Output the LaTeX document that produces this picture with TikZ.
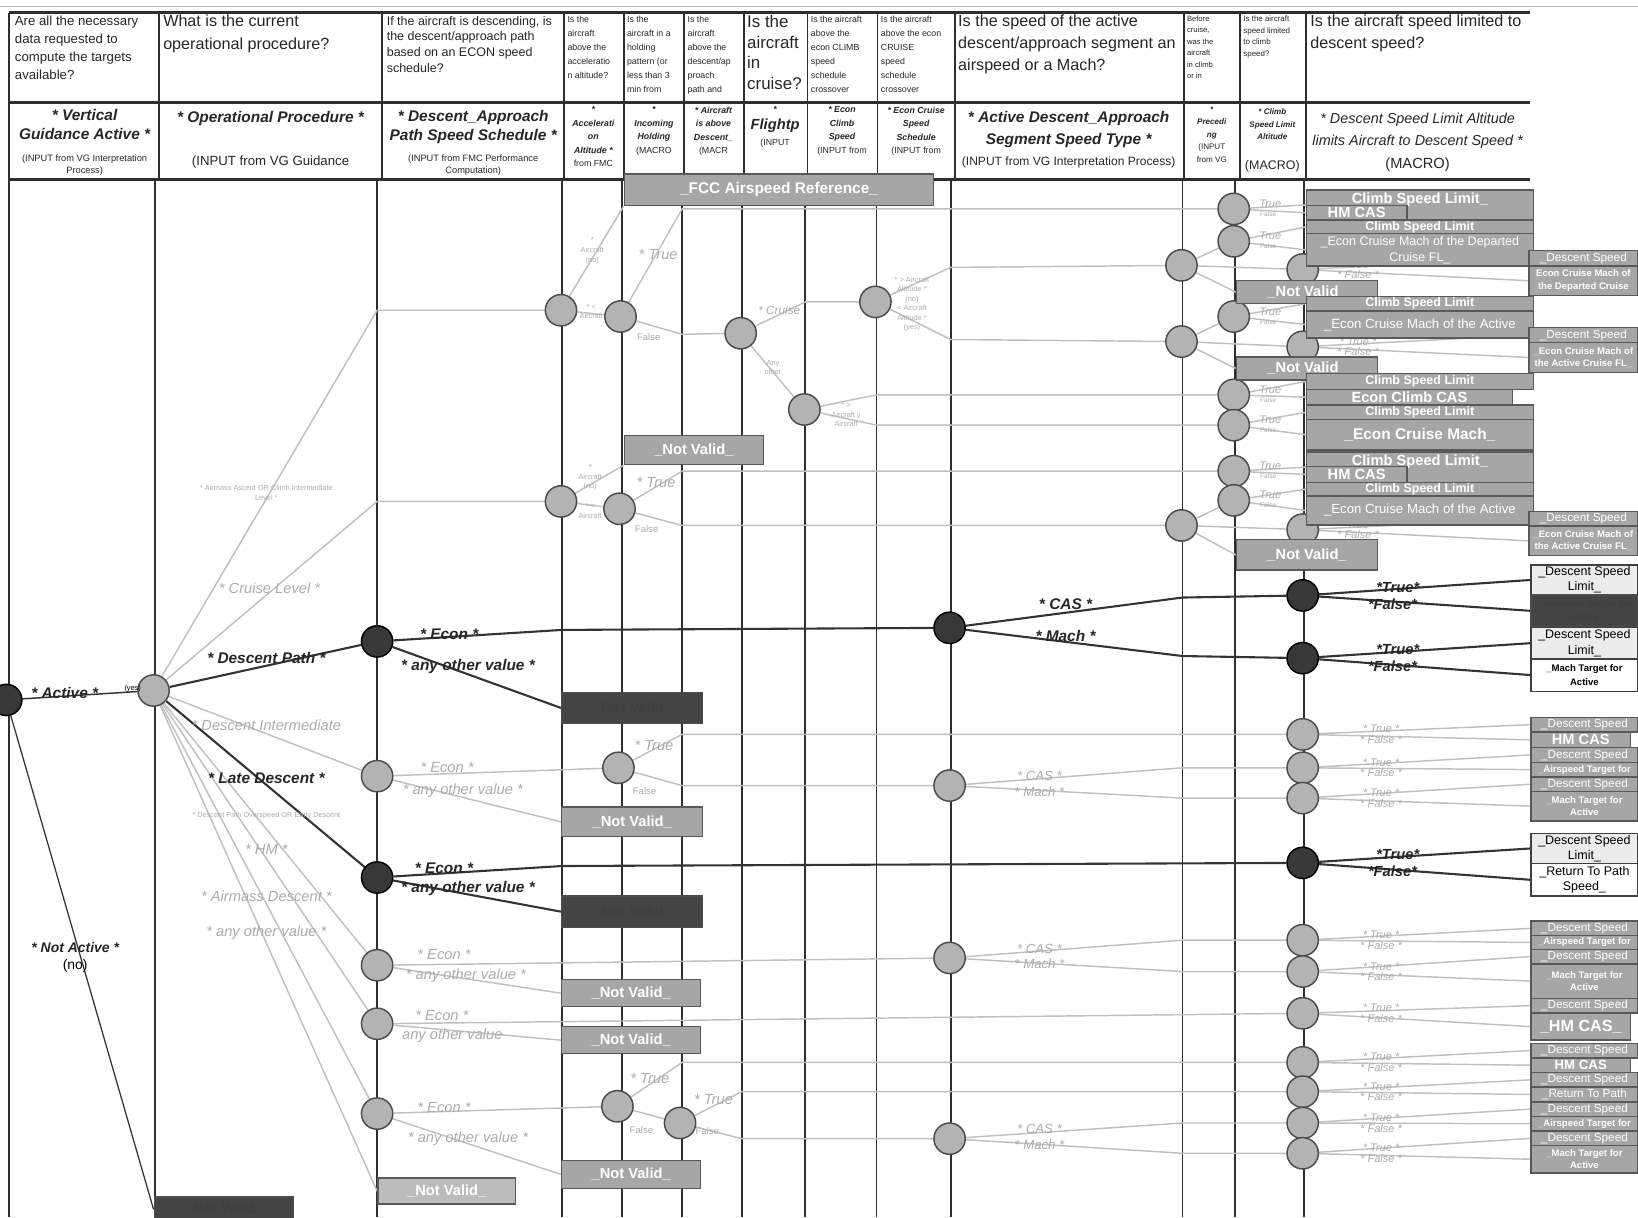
\documentclass[tikz,border=0pt]{standalone}
\usepackage{fontspec}
\setmainfont{Liberation Sans}
\usepackage{tikz}
\definecolor{dkfill}{HTML}{383838}
\definecolor{ltfill}{HTML}{B3B3B3}
\definecolor{boxmid}{HTML}{A6A6A6}
\definecolor{boxdk}{HTML}{444444}
\definecolor{boxpale}{HTML}{ECECEC}
\definecolor{labgray}{HTML}{ABABAB}
\definecolor{wiregray}{HTML}{C0C0C0}
\definecolor{gridgray}{HTML}{2E2E2E}
\newcommand{\setfs}[2]{\fontsize{#1}{#2}\selectfont}
\pgfdeclarelayer{grid}
\pgfdeclarelayer{wires}
\pgfsetlayers{grid,wires,main}

\begin{document}
\begin{tikzpicture}[x=0.25mm,y=-0.25mm]

\tikzset{
dk/.style={circle,draw=black,fill=dkfill,minimum size=7.5mm,inner sep=0pt,line width=0.35mm},
lt/.style={circle,draw=black!70,fill=ltfill,minimum size=7.5mm,inner sep=0pt,line width=0.35mm},
dline/.style={draw=black!80,line width=0.5mm},
lline/.style={draw=wiregray,line width=0.35mm},
wh/.style 2 args={minimum width=#1*0.25mm,minimum height=#2*0.25mm,inner sep=0pt,anchor=north west},
gbox/.style={draw=black!65,fill=boxmid,text=white,align=center,line width=0.35mm,font=\bfseries\setfs{10}{11}},
sbox/.style={gbox,font=\setfs{8}{9}},
tbox/.style={gbox,font=\bfseries\setfs{6.5}{8.5}},
kbox/.style={draw=black!70,fill=boxdk,text=black!75,align=center,line width=0.35mm,font=\bfseries\setfs{10}{11}},
pbox/.style={draw=black!75,fill=boxpale,text=black,align=center,line width=0.35mm,font=\setfs{8.5}{10.5}},
wbox/.style={draw=black!75,fill=white,text=black,align=center,line width=0.35mm,font=\setfs{8.5}{10.5}},
dlab/.style={text=black!85,font=\bfseries\itshape\setfs{10.5}{12},inner sep=0pt},
llab/.style={text=labgray,font=\itshape\setfs{10}{12},inner sep=0pt},
slab/.style={text=labgray,font=\itshape\setfs{7.5}{8},inner sep=0pt},
flab/.style={text=labgray,font=\setfs{6.5}{7},inner sep=0pt},
tlab/.style={text=labgray,font=\setfs{5}{6.5},align=center,inner sep=0pt},
q/.style={anchor=north west,align=left,inner sep=0pt,text=black!85},
h2/.style={anchor=north,align=center,inner sep=0pt,text=black!85}
}

\useasboundingbox (0,0) rectangle (1568,1165);

% table rules
\begin{pgfonlayer}{grid}
\draw[draw=black!25,line width=0.3mm] (0,6) -- (1568,6);
\foreach \yy in {12,98,172}
  \draw[draw=gridgray,line width=0.6mm] (9,\yy) -- (1465,\yy);
\foreach \xx in {9,152,366,540,597,655,712,773,840,914,1133,1187,1250}
  \draw[draw=gridgray,line width=0.45mm] (\xx,12) -- (\xx,172);
\foreach \xx in {9,148,361,538,595,653,710,771,839,910,1132,1182,1248}
  \draw[draw=gridgray,line width=0.45mm] (\xx,172) -- (\xx,1165);
\end{pgfonlayer}

% questions
\node[q,font=\setfs{9}{12.3}] (qa) at (14,15) {Are all the necessary\\data requested to\\compute the targets\\available?};
\node[q,font=\setfs{11}{15.6}] (qb) at (156,14) {What is the current\\operational procedure?};
\node[q,font=\setfs{8.5}{10.7}] (qc) at (370,15) {If the aircraft is descending, is\\the descent/approach path\\based on an ECON speed\\schedule?};
\node[q,font=\setfs{6}{9.6}] (qd) at (543,15) {Is the\\aircraft\\above the\\acceleratio\\n altitude?};
\node[q,font=\setfs{6}{9.6}] (qe) at (600,15) {Is the\\aircraft in a\\holding\\pattern (or\\less than 3\\min from};
\node[q,font=\setfs{6}{9.6}] (qf) at (658,15) {Is the\\aircraft\\above the\\descent/ap\\proach\\path and};
\node[q,font=\setfs{11.5}{14.2}] (qg) at (715,14) {Is the\\aircraft\\in\\cruise?};
\node[q,font=\setfs{6}{9.6}] (qh) at (776,15) {Is the aircraft\\above the\\econ CLIMB\\speed\\schedule\\crossover};
\node[q,font=\setfs{6}{9.6}] (qi) at (843,15) {Is the aircraft\\above the econ\\CRUISE\\speed\\schedule\\crossover};
\node[q,font=\setfs{11}{15}] (qj) at (917,14) {Is the speed of the active\\descent/approach segment an\\airspeed or a Mach?};
\node[q,font=\setfs{5.2}{7.8}] (qk) at (1136,15) {Before\\cruise,\\was the\\aircraft\\in climb\\or in};
\node[q,font=\setfs{5.4}{7.8}] (ql) at (1190,15) {Is the aircraft\\speed limited\\to climb\\speed?};
\node[q,font=\setfs{11}{15}] (qm) at (1254,14) {Is the aircraft speed limited to\\descent speed?};

% input names
\node[h2,font=\bfseries\itshape\setfs{10.5}{13.5}] (va) at (81,104) {* Vertical\\Guidance Active *};
\node[h2,font=\setfs{6.3}{7.8}] (vai) at (81,148) {(INPUT from VG Interpretation\\Process)};
\node[h2,font=\bfseries\itshape\setfs{10.5}{13.5}] (vb) at (259,106) {* Operational Procedure *};
\node[h2,font=\setfs{9}{11}] (vbi) at (259,149) {(INPUT from VG Guidance};
\node[h2,font=\bfseries\itshape\setfs{10.5}{13.5}] (vc) at (453,105) {* Descent\_Approach\\Path Speed Schedule *};
\node[h2,font=\setfs{6.3}{7.8}] (vci) at (453,148) {(INPUT from FMC Performance\\Computation)};
\node[h2,font=\bfseries\itshape\setfs{6}{9.2}] (vd) at (568,102) {*\\Accelerati\\on\\Altitude *\\\mdseries\upshape from FMC};
\node[h2,font=\bfseries\itshape\setfs{6}{9.2}] (ve) at (626,102) {*\\Incoming\\Holding\\\mdseries\upshape(MACRO};
\node[h2,font=\bfseries\itshape\setfs{6}{9.2}] (vf) at (683,102) {* Aircraft\\is above\\Descent\_\\\mdseries\upshape(MACR};
\node[h2,font=\bfseries\itshape\setfs{6}{11}] (vg) at (742,102) {*\\{\setfs{10}{11}Flightp}\\\mdseries\upshape(INPUT};
\node[h2,font=\bfseries\itshape\setfs{6}{9.2}] (vh) at (806,102) {* Econ\\Climb\\Speed\\\mdseries\upshape(INPUT from};
\node[h2,font=\bfseries\itshape\setfs{6}{9.2}] (vi) at (877,102) {* Econ Cruise\\Speed\\Schedule\\\mdseries\upshape(INPUT from};
\node[h2,font=\bfseries\itshape\setfs{10.5}{15}] (vj) at (1023,106) {* Active Descent\_Approach\\Segment Speed Type *};
\node[h2,font=\setfs{8.2}{10}] (vji) at (1023,150) {(INPUT from VG Interpretation Process)};
\node[h2,font=\bfseries\itshape\setfs{5.5}{8.5}] (vk) at (1160,102) {*\\Precedi\\ng\\\mdseries\upshape(INPUT\\\mdseries\upshape from VG};
\node[h2,font=\bfseries\itshape\setfs{5.5}{8.5}] (vl) at (1218,104) {* Climb\\Speed Limit\\Altitude};
\node[h2,font=\setfs{8.5}{10}] (vli) at (1218,153) {(MACRO)};
\node[h2,font=\itshape\setfs{9.8}{15}] (vm) at (1357,108) {* Descent Speed Limit Altitude\\limits Aircraft to Descent Speed *};
\node[h2,font=\setfs{10}{12}] (vmi) at (1357,151) {(MACRO)};

% decision points
\node[dk] (act) at (6,670) {};
\node[lt] (proc) at (147,661) {};
\node[lt] (accA) at (537,297) {};
\node[lt] (holdA) at (594,303) {};
\node[lt] (cruA) at (709,319) {};
\node[lt] (crsA) at (838,289) {};
\node[lt] (clbA) at (770,392) {};
\node[lt] (accB) at (537,480) {};
\node[lt] (holdB) at (593,487) {};
\node[dk] (pathD) at (361,614) {};
\node[lt] (pathI) at (361,743) {};
\node[dk] (pathL) at (361,840) {};
\node[lt] (pathO) at (361,924) {};
\node[lt] (pathH) at (361,980) {};
\node[lt] (pathM) at (361,1066) {};
\node[lt] (holdC) at (592,735) {};
\node[lt] (holdD) at (591,1059) {};
\node[lt] (aboveD) at (651,1075) {};
\node[dk] (typeD) at (909,601) {};
\node[lt] (typeI) at (909,752) {};
\node[lt] (typeO) at (909,917) {};
\node[lt] (typeM) at (909,1090) {};
\foreach \nm/\yy in {A/254,B/327,C/503} \node[lt] (bef\nm) at (1131,\yy) {};
\foreach \nm/\yy in {A/200,B/231,C/303,D/378,E/407,F/451,G/479} \node[lt] (clim\nm) at (1181,\yy) {};
\foreach \nm/\yy in {A/258,B/332,C/507} \node[lt] (des\nm) at (1247,\yy) {};
\foreach \nm/\yy in {A/570,B/630,C/826} \node[dk] (dlim\nm) at (1247,\yy) {};
\foreach \nm/\yy in {A/703,B/735,C/764,D/900,E/930,F/970,G/1017,H/1045,I/1075,J/1104} \node[lt] (lim\nm) at (1247,\yy) {};

% branch labels
\node[dlab] (tAct) at (62,663) {* Active *};
\node[inner sep=0pt,font=\setfs{5}{6}] (tYes) at (127,659) {(yes)};
\node[dlab,font=\bfseries\itshape\setfs{9.5}{11}] (tNot) at (72,907) {* Not Active *};
\node[inner sep=0pt,font=\setfs{9.5}{11}] (tNo) at (72,925) {(no)};
\node[tlab] (tAsc) at (255,472) {* Airmass Ascent OR Climb Intermediate\\Level *};
\node[llab] (tCrl) at (258,563) {* Cruise Level *};
\node[dlab] (tDsp) at (255,630) {* Descent Path *};
\node[llab] (tDsi) at (255,694) {* Descent Intermediate};
\node[dlab] (tLat) at (255,745) {* Late Descent *};
\node[tlab] (tOvs) at (255,781) {* Descent Path Overspeed OR Early Descent};
\node[llab] (tHm) at (255,813) {* HM *};
\node[llab] (tAmd) at (255,858) {* Airmass Descent *};
\node[llab] (tAny) at (255,893) {* any other value *};

\node[dlab] (eD) at (430,607) {* Econ *};
\node[dlab] (oD) at (448,638) {* any other value *};
\node[llab] (eI) at (428,735) {* Econ *};
\node[llab] (oI) at (443,757) {* any other value *};
\node[dlab] (eL) at (425,831) {* Econ *};
\node[dlab] (oL) at (448,851) {* any other value *};
\node[llab] (eO) at (425,914) {* Econ *};
\node[llab] (oO) at (446,934) {* any other value *};
\node[llab] (eH) at (423,972) {* Econ *};
\node[llab] (oH) at (433,991) {any other value};
\node[llab] (eM) at (425,1060) {* Econ *};
\node[llab] (oM) at (448,1090) {* any other value *};

\node[tlab] (nA) at (567,240) {*\\Aircraft\\(no)};
\node[tlab] (yA) at (566,298) {* <\\Aircraft};
\node[llab] (trA) at (630,244) {* True};
\node[flab] (fA) at (621,323) {False};
\node[llab,font=\itshape\setfs{8}{9}] (tCru) at (746,297) {* Cruise};
\node[tlab] (tOth) at (740,352) {Any\\other};
\node[tlab] (tAlt) at (873,291) {* > Aircraft\\Altitude *\\(no)\\< Aircraft\\Altitude *\\(yes)};
\node[tlab] (tClb) at (810,397) {* >\\Aircraft y\\Aircraft};
\node[tlab] (nB) at (565,457) {*\\Aircraft\\(no)};
\node[tlab] (yB) at (565,489) {* <\\Aircraft};
\node[llab] (trB) at (628,462) {* True};
\node[flab] (fB) at (619,506) {False};
\node[llab] (trC) at (626,714) {* True};
\node[flab] (fC) at (617,757) {False};
\node[llab] (trD) at (622,1032) {* True};
\node[flab] (fD) at (614,1082) {False};
\node[llab] (trE) at (683,1053) {* True};
\node[flab] (fE) at (677,1083) {False};

\node[dlab] (cD) at (1020,578) {* CAS *};
\node[dlab] (mD) at (1020,609) {* Mach *};
\foreach \nm/\yy in {I/752,O/917,M/1090}{
  \node[llab,font=\itshape\setfs{9}{10}] (cas\nm) at (995,\yy-9) {* CAS *};
  \node[llab,font=\itshape\setfs{9}{10}] (mach\nm) at (995,\yy+6) {* Mach *};
}
\foreach \nm/\yy in {A/570,B/630,C/826}{
  \node[dlab,font=\bfseries\itshape\setfs{10}{11}] (dt\nm) at (1338,\yy-8) {*True*};
  \node[dlab,font=\bfseries\itshape\setfs{10}{11}] (df\nm) at (1333,\yy+8) {*False*};
}
\foreach \nm/\yy in {A/703,B/735,C/764,D/900,E/930,F/970,G/1017,H/1045,I/1075,J/1104}{
  \node[slab] (lbt\nm) at (1322,\yy-5) {* True *};
  \node[slab] (lbf\nm) at (1322,\yy+5) {* False *};
}
\foreach \nm/\yy in {A/258,B/332,C/507}{
  \node[slab] (dst\nm) at (1300,\yy-5) {* True *};
  \node[slab] (dsf\nm) at (1300,\yy+5) {* False *};
}
\foreach \nm/\yy in {A/200,B/231,C/303,D/378,E/407,F/451,G/479}{
  \node[slab] (cst\nm) at (1216,\yy-5) {True};
  \node[flab,font=\setfs{4.5}{5}] (csf\nm) at (1214,\yy+5) {False};
}

% result boxes
\node[gbox,wh={296}{30},font=\bfseries\setfs{10.5}{12}] (fcc) at (597,166) {\_FCC Airspeed Reference\_};
\node[gbox,wh={133}{28}] (nvA) at (597,416) {\_Not Valid\_};
\node[gbox,wh={135}{22}] (nvB) at (1183,268) {\_Not Valid\_};
\node[gbox,wh={135}{22}] (nvC) at (1183,341) {\_Not Valid\_};
\node[gbox,wh={135}{29}] (nvD) at (1183,516) {\_Not Valid\_};
\node[kbox,wh={135}{30}] (nvE) at (537,662) {\_Not Valid\_};
\node[gbox,wh={135}{28}] (nvF) at (537,772) {\_Not Valid\_};
\node[kbox,wh={135}{30}] (nvG) at (537,857) {\_Not Valid\_};
\node[gbox,wh={133}{26}] (nvH) at (537,937) {\_Not Valid\_};
\node[gbox,wh={133}{26}] (nvI) at (537,982) {\_Not Valid\_};
\node[gbox,wh={133}{27}] (nvJ) at (537,1110) {\_Not Valid\_};
\node[gbox,wh={132}{25},fill=boxmid!75] (nvK) at (361,1127) {\_Not Valid\_};
\node[kbox,wh={133}{24}] (nvL) at (147,1145) {\_Not Valid\_};

\node[gbox,wh={217}{29},text height=3.2mm,text depth=4.05mm] (csA) at (1250,181) {Climb Speed Limit\_};
\node[gbox,wh={96}{14}] (cbA) at (1250,196) {HM CAS};
\node[gbox,wh={217}{13},font=\bfseries\setfs{8.5}{9}] (csB) at (1250,210) {Climb Speed Limit};
\node[gbox,wh={217}{31},font=\setfs{8.5}{11}] (cbB) at (1250,223) {\_Econ Cruise Mach of the Departed\\Cruise FL\_};
\node[gbox,wh={217}{14},font=\bfseries\setfs{8.5}{9}] (csC) at (1250,283) {Climb Speed Limit};
\node[gbox,wh={217}{26},font=\setfs{9}{10}] (cbC) at (1250,297) {\_Econ Cruise Mach of the Active};
\node[gbox,wh={217}{15},font=\bfseries\setfs{8.5}{9}] (csD) at (1250,357) {Climb Speed Limit};
\node[gbox,wh={197}{15}] (cbD) at (1250,372) {Econ Climb CAS};
\node[gbox,wh={217}{14},font=\bfseries\setfs{8.5}{9}] (csE) at (1250,387) {Climb Speed Limit};
\node[gbox,wh={217}{29},font=\bfseries\setfs{10.5}{12}] (cbE) at (1250,401) {\_Econ Cruise Mach\_};
\node[gbox,wh={217}{29},text height=3.2mm,text depth=4.05mm] (csF) at (1250,432) {Climb Speed Limit\_};
\node[gbox,wh={96}{15}] (cbF) at (1250,446) {HM CAS};
\node[gbox,wh={217}{13},font=\bfseries\setfs{8.5}{9}] (csG) at (1250,461) {Climb Speed Limit};
\node[gbox,wh={217}{28},font=\setfs{9}{10}] (cbG) at (1250,474) {\_Econ Cruise Mach of the Active};

\node[sbox,wh={104}{15}] (dsA) at (1463,239) {\_Descent Speed};
\node[tbox,wh={104}{28}] (dmA) at (1463,254) {Econ Cruise Mach of\\the Departed Cruise};
\node[sbox,wh={104}{14}] (dsB) at (1463,313) {\_Descent Speed};
\node[tbox,wh={104}{29}] (dmB) at (1463,327) {\_Econ Cruise Mach of\\the Active Cruise FL\_};
\node[sbox,wh={104}{14}] (dsC) at (1463,489) {\_Descent Speed};
\node[tbox,wh={104}{28}] (dmC) at (1463,503) {\_Econ Cruise Mach of\\the Active Cruise FL\_};

\node[pbox,wh={102}{29}] (dlA) at (1465,540) {\_Descent Speed\\Limit\_};
\node[kbox,wh={102}{30},font=\bfseries\setfs{6.5}{9}] (dxA) at (1465,569) {\_Airspeed Target for\\Active};
\node[pbox,wh={102}{30}] (dlB) at (1465,600) {\_Descent Speed\\Limit\_};
\node[wbox,wh={102}{31},font=\bfseries\setfs{6.5}{9}] (dxB) at (1465,630) {\_Mach Target for\\Active};
\node[pbox,wh={102}{29}] (dlC) at (1465,797) {\_Descent Speed\\Limit\_};
\node[wbox,wh={102}{31}] (dxC) at (1465,826) {\_Return To Path\\Speed\_};

\node[sbox,wh={102}{14}] (dtopA) at (1465,686) {\_Descent Speed};
\node[gbox,wh={95}{15}] (dbotA) at (1465,700) {HM CAS};
\node[sbox,wh={102}{14}] (dtopB) at (1465,715) {\_Descent Speed};
\node[tbox,wh={102}{14}] (dbotB) at (1465,729) {\_Airspeed Target for};
\node[sbox,wh={102}{14}] (dtopC) at (1465,743) {\_Descent Speed};
\node[tbox,wh={102}{28}] (dbotC) at (1465,757) {\_Mach Target for\\Active};
\node[sbox,wh={102}{14}] (dtopD) at (1465,881) {\_Descent Speed};
\node[tbox,wh={102}{13}] (dbotD) at (1465,895) {\_Airspeed Target for};
\node[sbox,wh={102}{14}] (dtopE) at (1465,908) {\_Descent Speed};
\node[tbox,wh={102}{33}] (dbotE) at (1465,922) {\_Mach Target for\\Active};
\node[sbox,wh={102}{14}] (dtopF) at (1465,955) {\_Descent Speed};
\node[gbox,wh={95}{26},font=\bfseries\setfs{11}{12}] (dbotF) at (1465,969) {\_HM CAS\_};
\node[sbox,wh={102}{14}] (dtopG) at (1465,998) {\_Descent Speed};
\node[gbox,wh={95}{14},font=\bfseries\setfs{9}{10}] (dbotG) at (1465,1012) {HM CAS};
\node[sbox,wh={102}{14}] (dtopH) at (1465,1026) {\_Descent Speed};
\node[sbox,wh={102}{14}] (dbotH) at (1465,1040) {\_Return To Path};
\node[sbox,wh={102}{14}] (dtopI) at (1465,1054) {\_Descent Speed};
\node[tbox,wh={102}{14}] (dbotI) at (1465,1068) {\_Airspeed Target for};
\node[sbox,wh={102}{14}] (dtopJ) at (1465,1082) {\_Descent Speed};
\node[tbox,wh={102}{26}] (dbotJ) at (1465,1096) {\_Mach Target for\\Active};

% connectors
\begin{pgfonlayer}{wires}
\coordinate (kA) at (361,297);
\coordinate (kB) at (361,480);
\coordinate (kC) at (653,200);
\coordinate (kD) at (653,320);
\coordinate (kE) at (538,603);
\coordinate (kF) at (1132,572);
\coordinate (kG) at (1132,628);
\coordinate (kH) at (538,829);
\coordinate (kI) at (771,289);
\coordinate (kJ) at (910,256);
\coordinate (kK) at (910,325);
\coordinate (kL) at (839,378);
\coordinate (kM) at (839,407);
\coordinate (kN) at (653,451);
\coordinate (kO) at (653,503);
\coordinate (kP) at (653,703);
\coordinate (kQ) at (653,752);
\coordinate (kR) at (1132,735);
\coordinate (kS) at (1132,764);
\coordinate (kT) at (1132,900);
\coordinate (kU) at (1132,930);
\coordinate (kV) at (653,1017);
\coordinate (kW) at (710,1045);
\coordinate (kX) at (710,1090);
\coordinate (kY) at (1132,1075);
\coordinate (kZ) at (1132,1104);

\draw[dline,line width=0.35mm] (act) -- (proc);
\draw[dline,line width=0.3mm] (act) -- (nvL.west);
\draw[dline] (proc) -- (pathD);
\draw[dline] (proc) -- (pathL);
\draw[dline] (pathD) -- (kE) -- (typeD);
\draw[dline] (pathD) -- (nvE.west);
\draw[dline] (typeD) -- (kF) -- (dlimA);
\draw[dline] (typeD) -- (kG) -- (dlimB);
\draw[dline] (pathL) -- (kH) -- (dlimC);
\draw[dline] (pathL) -- (nvG.west);
\draw[dline] (dlimA) -- (dlA.west);
\draw[dline] (dlimA) -- (dxA.west);
\draw[dline] (dlimB) -- (dlB.west);
\draw[dline] (dlimB) -- (dxB.west);
\draw[dline] (dlimC) -- (dlC.west);
\draw[dline] (dlimC) -- (dxC.west);

\draw[lline] (proc) -- (kA) -- (accA);
\draw[lline] (proc) -- (kB) -- (accB);
\draw[lline] (proc) -- (pathI);
\draw[lline] (proc) -- (pathO);
\draw[lline] (proc) -- (pathH);
\draw[lline] (proc) -- (pathM);
\draw[lline] (proc) -- (nvK.west);
\draw[lline] (accA) -- (fcc.south west);
\draw[lline] (accA) -- (holdA);
\draw[lline] (holdA) -- (kC) -- (climA);
\draw[lline] (holdA) -- (kD) -- (cruA);
\draw[lline] (cruA) -- (kI) -- (crsA);
\draw[lline] (cruA) -- (clbA);
\draw[lline] (crsA) -- (kJ) -- (befA);
\draw[lline] (crsA) -- (kK) -- (befB);
\draw[lline] (clbA) -- (kL) -- (climD);
\draw[lline] (clbA) -- (kM) -- (climE);
\draw[lline] (accB) -- (nvA.south west);
\draw[lline] (accB) -- (holdB);
\draw[lline] (holdB) -- (kN) -- (climF);
\draw[lline] (holdB) -- (kO) -- (befC);
\draw[lline] (befA) -- (climB);
\draw[lline] (befA) -- (desA);
\draw[lline] (befA) -- (nvB.west);
\draw[lline] (befB) -- (climC);
\draw[lline] (befB) -- (desB);
\draw[lline] (befB) -- (nvC.west);
\draw[lline] (befC) -- (climG);
\draw[lline] (befC) -- (desC);
\draw[lline] (befC) -- (nvD.west);
\foreach \nm in {A,B,C,D,E,F,G}{
  \draw[lline] (clim\nm) -- (cs\nm.west);
  \draw[lline] (clim\nm) -- (cb\nm.west);
}
\foreach \nm in {A,B,C}{
  \draw[lline] (des\nm) -- (ds\nm.west);
  \draw[lline] (des\nm) -- (dm\nm.west);
}
\draw[lline] (pathI) -- (holdC);
\draw[lline] (pathI) -- (nvF.west);
\draw[lline] (holdC) -- (kP) -- (limA);
\draw[lline] (holdC) -- (kQ) -- (typeI);
\draw[lline] (typeI) -- (kR) -- (limB);
\draw[lline] (typeI) -- (kS) -- (limC);
\draw[lline] (pathO) -- (typeO);
\draw[lline] (pathO) -- (nvH.west);
\draw[lline] (typeO) -- (kT) -- (limD);
\draw[lline] (typeO) -- (kU) -- (limE);
\draw[lline] (pathH) -- (limF);
\draw[lline] (pathH) -- (nvI.west);
\draw[lline] (pathM) -- (holdD);
\draw[lline] (pathM) -- (nvJ.west);
\draw[lline] (holdD) -- (kV) -- (limG);
\draw[lline] (holdD) -- (aboveD);
\draw[lline] (aboveD) -- (kW) -- (limH);
\draw[lline] (aboveD) -- (kX) -- (typeM);
\draw[lline] (typeM) -- (kY) -- (limI);
\draw[lline] (typeM) -- (kZ) -- (limJ);
\foreach \nm in {A,B,C,D,E,F,G,H,I,J}{
  \draw[lline] (lim\nm) -- (dtop\nm.west);
  \draw[lline] (lim\nm) -- (dbot\nm.west);
}
\end{pgfonlayer}

\end{tikzpicture}
\end{document}
